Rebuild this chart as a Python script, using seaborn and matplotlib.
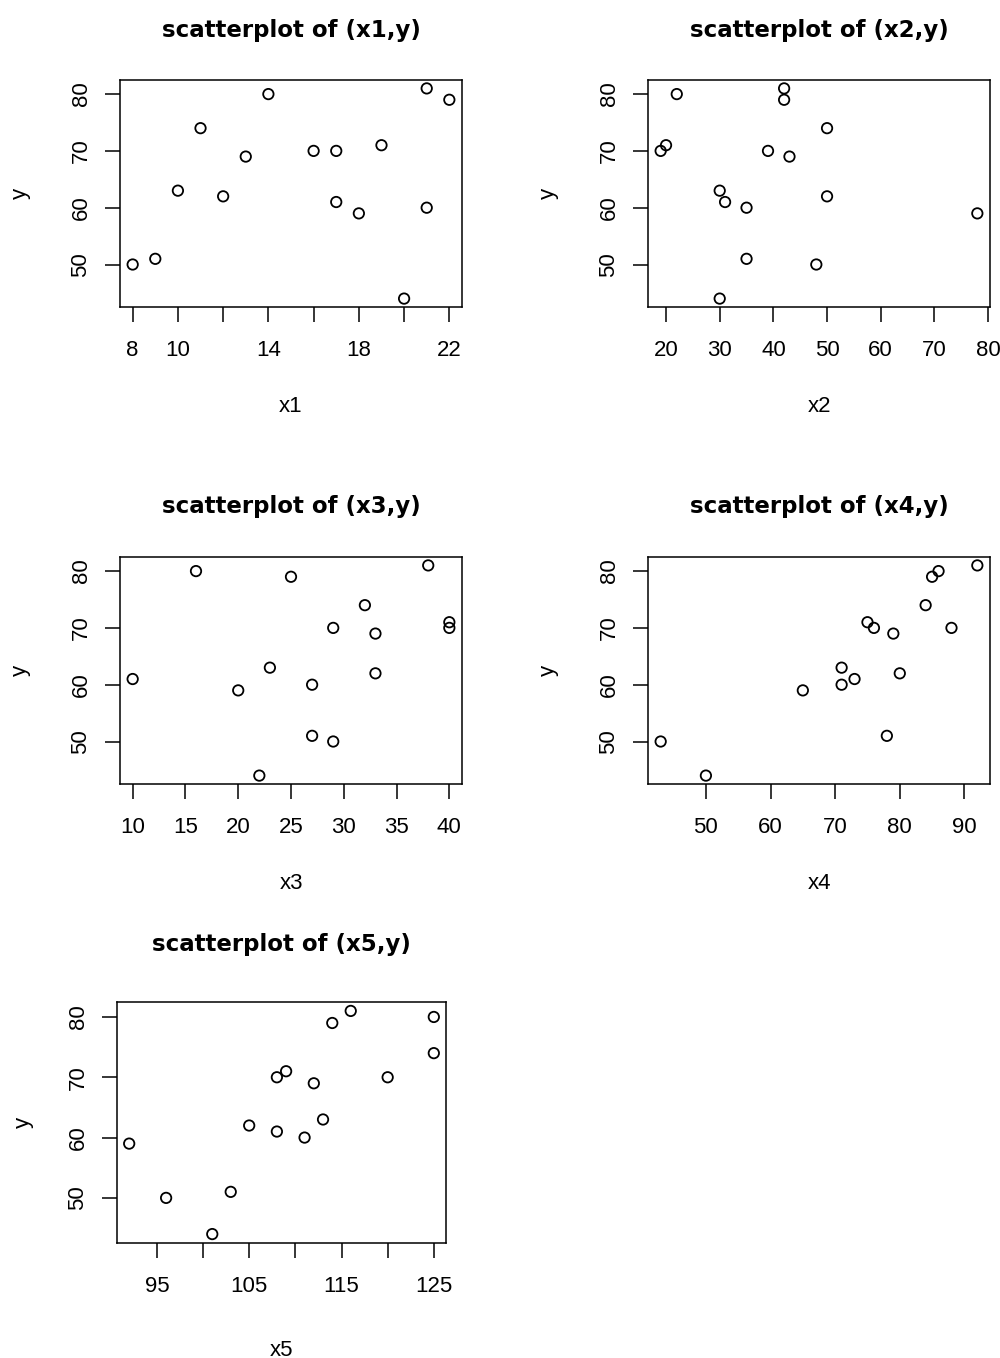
import numpy as np
import pandas as pd
import matplotlib
matplotlib.use("Agg")
import matplotlib.pyplot as plt
import seaborn as sns

# ---- data: response y and five predictors, one entry per observation ----
y  = [50, 51, 63, 74, 62, 69, 80, 70, 70, 61, 59, 71, 44, 81, 60, 79]
x1 = [8, 9, 10, 11, 12, 13, 14, 16, 17, 17, 18, 19, 20, 21, 21, 22]
x2 = [48, 35, 30, 50, 50, 43, 22, 19, 39, 31, 78, 20, 30, 42, 35, 42]
x3 = [29, 27, 23, 32, 33, 33, 16, 29, 40, 10, 20, 40, 22, 38, 27, 25]
x4 = [43, 78, 71, 84, 80, 79, 86, 76, 88, 73, 65, 75, 50, 92, 71, 85]
x5 = [96, 103, 113, 125, 105, 112, 125, 108, 120, 108, 92, 109, 101, 116, 111, 114]

# ---- axis ticks and their labels ----
y_ticks = [50, 60, 70, 80]
y_tick_labels = ["50", "60", "70", "80"]
x1_ticks = [8, 10, 12, 14, 16, 18, 20, 22]
x1_tick_labels = ["8", "10", "", "14", "", "18", "", "22"]
x2_ticks = [20, 30, 40, 50, 60, 70, 80]
x2_tick_labels = ["20", "30", "40", "50", "60", "70", "80"]
x3_ticks = [10, 15, 20, 25, 30, 35, 40]
x3_tick_labels = ["10", "15", "20", "25", "30", "35", "40"]
x4_ticks = [50, 60, 70, 80, 90]
x4_tick_labels = ["50", "60", "70", "80", "90"]
x5_ticks = [95, 100, 105, 110, 115, 120, 125]
x5_tick_labels = ["95", "", "105", "", "115", "", "125"]

df = pd.DataFrame({"y": y, "x1": x1, "x2": x2, "x3": x3, "x4": x4, "x5": x5})

sns.set_theme(style="white")
plt.rcParams["font.family"] = ["Liberation Sans", "DejaVu Sans"]
plt.rcParams["text.color"] = "black"
plt.rcParams["axes.labelcolor"] = "black"
plt.rcParams["xtick.color"] = "black"
plt.rcParams["ytick.color"] = "black"

W, H = 1000, 1358
fig = plt.figure(figsize=(W / 100, H / 100), dpi=100)
fig.patch.set_facecolor("white")

# panel boxes in pixels: (left, top, right, bottom) plus text offsets
panels = [
    ("x1", x1_ticks, x1_tick_labels, (120, 80, 462, 307), 50, 100, 100),
    ("x2", x2_ticks, x2_tick_labels, (648, 80, 990, 307), 50, 100, 100),
    ("x3", x3_ticks, x3_tick_labels, (120, 557, 462, 784), 50, 100, 100),
    ("x4", x4_ticks, x4_tick_labels, (648, 557, 990, 784), 50, 100, 100),
    ("x5", x5_ticks, x5_tick_labels, (117, 1002, 446, 1243), 57, 107, 94),
]


def r_limits(values):
    lo, hi = min(values), max(values)
    span = hi - lo
    return lo - 0.04 * span, hi + 0.04 * span


for name, xt, xtl, (l, t, r, b), title_off, xlab_off, ylab_off in panels:
    ax = fig.add_axes([l / W, 1 - b / H, (r - l) / W, (b - t) / H])
    w_px, h_px = r - l, b - t
    sns.scatterplot(data=df, x=name, y="y", ax=ax, marker="o", s=56,
                    facecolor="none", edgecolor="black", linewidth=1.3)
    ax.set_xlim(*r_limits(df[name]))
    ax.set_ylim(*r_limits(df["y"]))

    ax.set_xticks(xt)
    ax.set_xticklabels(xtl, fontsize=16)
    ax.set_yticks(y_ticks)
    ax.set_yticklabels(y_tick_labels, fontsize=16, rotation=90, va="center")
    ax.tick_params(axis="x", direction="out", length=10.5, width=1.1,
                   pad=13.5, colors="black", bottom=True)
    ax.tick_params(axis="y", direction="out", length=10.5, width=1.1,
                   pad=10, colors="black", left=True)
    for sp in ax.spines.values():
        sp.set_visible(True)
        sp.set_color("black")
        sp.set_linewidth(1.1)

    ax.set_xlabel(name, fontsize=16, va="center", ha="center", color="black")
    ax.xaxis.set_label_coords(0.5, -xlab_off / h_px)
    ax.set_ylabel("y", fontsize=16, va="center", ha="center", color="black")
    ax.yaxis.set_label_coords(-ylab_off / w_px, 0.5)

    ax.set_title(f"scatterplot of ({name},y)", fontsize=16.5, fontweight="bold",
                 family=["DejaVu Sans"], color="black",
                 y=1 + title_off / h_px, va="center", pad=0)
    ax.grid(False)

fig.savefig("out.png", dpi=100, facecolor="white")
